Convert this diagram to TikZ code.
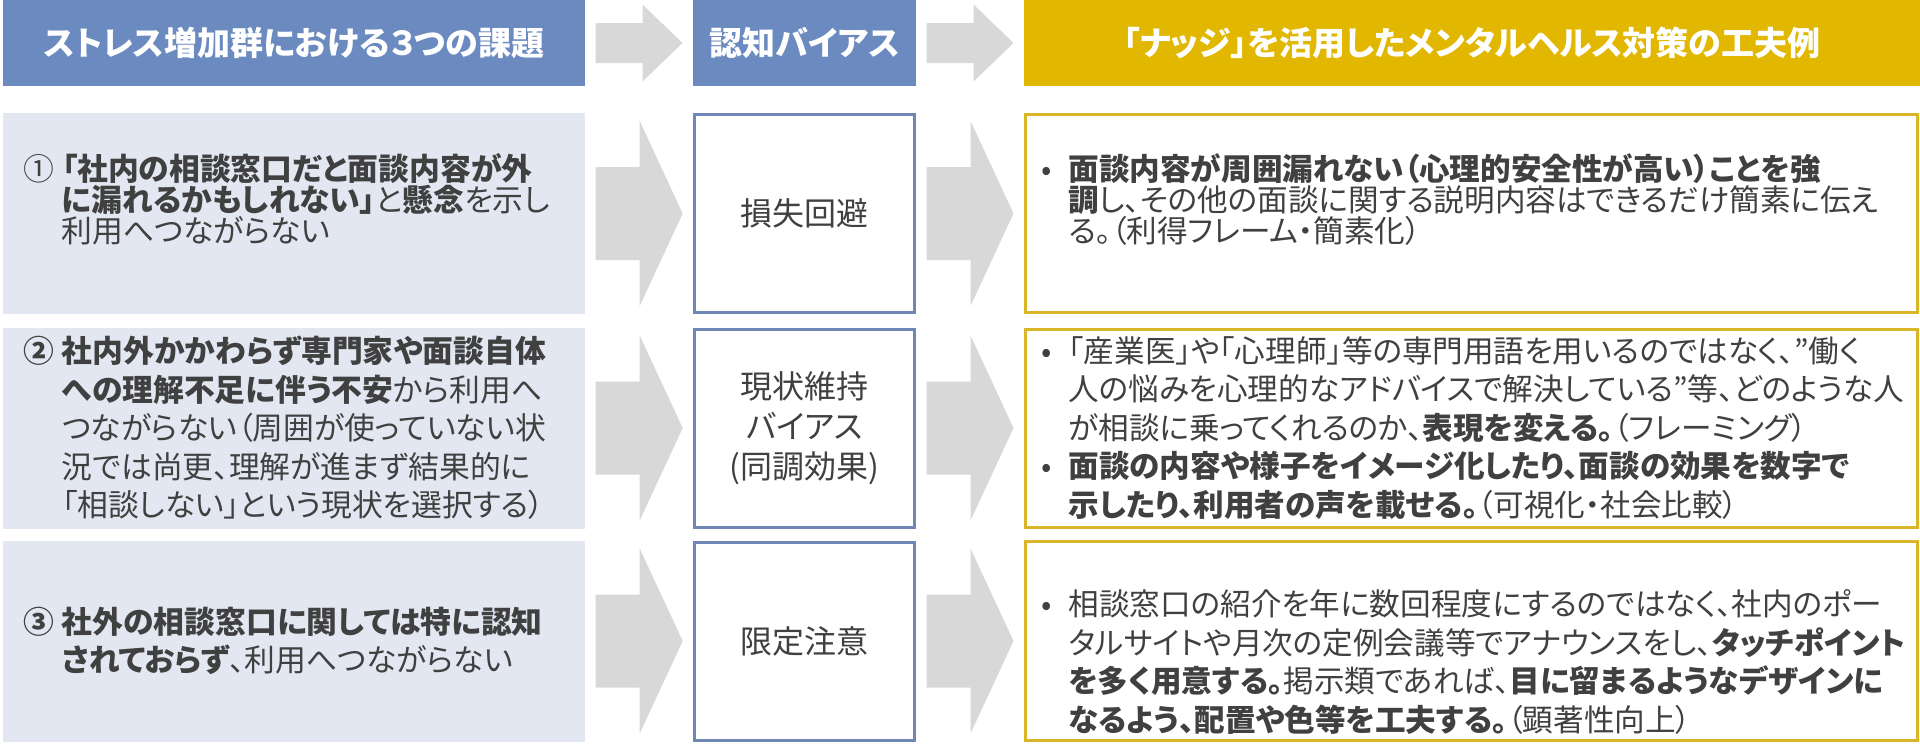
\documentclass[tikz,border=0pt]{standalone}
\usepackage{fontspec}
\setmainfont{Noto Sans CJK JP}[RawFeature={+palt}]
\usetikzlibrary{calc}
\definecolor{HeadBlue}{RGB}{106,138,192}
\definecolor{HeadGold}{RGB}{226,183,0}
\definecolor{BiasBlue}{RGB}{110,135,180}
\definecolor{NudgeGold}{RGB}{216,182,40}
\definecolor{ProbFill}{RGB}{226,231,241}
\definecolor{ArrowGray}{RGB}{216,216,216}
\definecolor{TextGray}{RGB}{64,64,64}
\newcommand\blt{\makebox[13.5pt][l]{•}}
\newcommand\bltpad{\hspace*{13.5pt}}
\newcommand\numpad{\hspace*{19pt}}

\begin{document}
\begin{tikzpicture}[
    x=0.5pt, y=-0.5pt,
    headbox/.style={minimum height=43pt, inner sep=0pt, text=white,
        font=\bfseries\fontsize{16.5}{19}\selectfont},
    probbox/.style={fill=ProbFill, minimum width=291pt, text width=270pt, inner xsep=10.5pt,
        minimum height=100.5pt, align=left, text=TextGray, font=\fontsize{15.4}{19.25}\selectfont},
    biasbox/.style={draw=BiasBlue, line width=1.5pt, fill=white, minimum width=110pt,
        minimum height=99pt, align=center, text=TextGray, font=\fontsize{16}{20}\selectfont},
    nudgebox/.style={draw=NudgeGold, line width=1.5pt, fill=white, text width=430pt, inner xsep=8pt,
        minimum height=99pt, align=left, text=TextGray, font=\fontsize{15.3}{19.25}\selectfont},
]
\useasboundingbox (0,0) rectangle (1920,745);

% --- cabeceras ---
\node[headbox, fill=HeadBlue, minimum width=291pt] (hprob) at (294,43) {ストレス増加群における３つの課題};
\node[headbox, fill=HeadBlue, minimum width=111.5pt] (hbias) at (804.5,43) {認知バイアス};
\node[headbox, fill=HeadGold, minimum width=448pt] (hnudge) at (1472,43)
    {「ナッジ」を活用したメンタルヘルス対策の工夫例};

% --- 課題 ---
\node[probbox, font=\fontsize{15.4}{15.5}\selectfont] (prob1) at (294,213.5)
    {\makebox[19pt][l]{①}\textbf{「社内の相談窓口だと面談内容が外}\\
     \numpad\textbf{に漏れるかもしれない」}と\textbf{懸念}を示し\\
     \numpad 利用へつながらない\\ \mbox{}};
\node[probbox] (prob2) at (294,428)
    {\textbf{\makebox[19pt][l]{②}社内外かかわらず専門家や面談自体}\\
     \numpad\textbf{への理解不足に伴う不安}から利用へ\\
     \numpad つながらない（周囲が使っていない状\\
     \numpad 況では尚更、理解が進まず結果的に\\
     \numpad「相談しない」という現状を選択する）};
\node[probbox] (prob3) at (294,641)
    {\textbf{\makebox[19pt][l]{③}社外の相談窓口に関しては特に認知}\\
     \numpad\textbf{されておらず}、利用へつながらない};

% --- 認知バイアス ---
\node[biasbox] (bias1) at (804.5,213.5) {損失回避};
\node[biasbox] (bias2) at (804.5,428) {現状維持\\バイアス\\(同調効果)};
\node[biasbox] (bias3) at (804.5,641) {限定注意};

% --- ナッジ ---
\node[nudgebox, font=\fontsize{15.3}{15.5}\selectfont] (nudge1) at (1471.5,213.5)
    {\blt\textbf{面談内容が周囲漏れない（心理的安全性が高い）ことを強}\\
     \bltpad\textbf{調}し、その他の面談に関する説明内容はできるだけ簡素に伝え\\
     \bltpad る。（利得フレーム・簡素化）\\ \mbox{}};
\node[nudgebox] (nudge2) at (1471.5,428)
    {\blt「産業医」や「心理師」等の専門用語を用いるのではなく、"働く\\
     \bltpad 人の悩みを心理的なアドバイスで解決している"等、どのような人\\
     \bltpad が相談に乗ってくれるのか、\textbf{表現を変える。}（フレーミング）\\
     \blt\textbf{面談の内容や様子をイメージ化したり、面談の効果を数字で}\\
     \bltpad\textbf{示したり、利用者の声を載せる。}（可視化・社会比較）};
\node[nudgebox] (nudge3) at (1471.5,641)
    {\mbox{}\\[14.5pt]
     \blt 相談窓口の紹介を年に数回程度にするのではなく、社内のポー\\
     \bltpad タルサイトや月次の定例会議等でアナウンスをし、\textbf{タッチポイント}\\
     \bltpad\textbf{を多く用意する。}掲示類であれば、\textbf{目に留まるようなデザインに}\\
     \bltpad\textbf{なるよう、配置や色等を工夫する。}（顕著性向上）};

% flechas grises
\foreach \a/\b in {hprob/hbias, hbias/hnudge}
    \fill[ArrowGray] ($(\a.east)!0.5!(\b.west)$) ++(-43.5,-20) -- ++(47,0) -- ++(0,-18.5)
        -- ++(40,38.5) -- ++(-40,38.5) -- ++(0,-18.5) -- ++(-47,0) -- cycle;
\foreach \a/\b in {prob1/bias1, bias1/nudge1, prob2/bias2, bias2/nudge2, prob3/bias3, bias3/nudge3}
    \fill[ArrowGray] ($(\a.east)!0.5!(\b.west)$) ++(-43.5,-46.5) -- ++(44,0) -- ++(0,-46)
        -- ++(43,92.5) -- ++(-43,92.5) -- ++(0,-46) -- ++(-44,0) -- cycle;

\end{tikzpicture}
\end{document}
